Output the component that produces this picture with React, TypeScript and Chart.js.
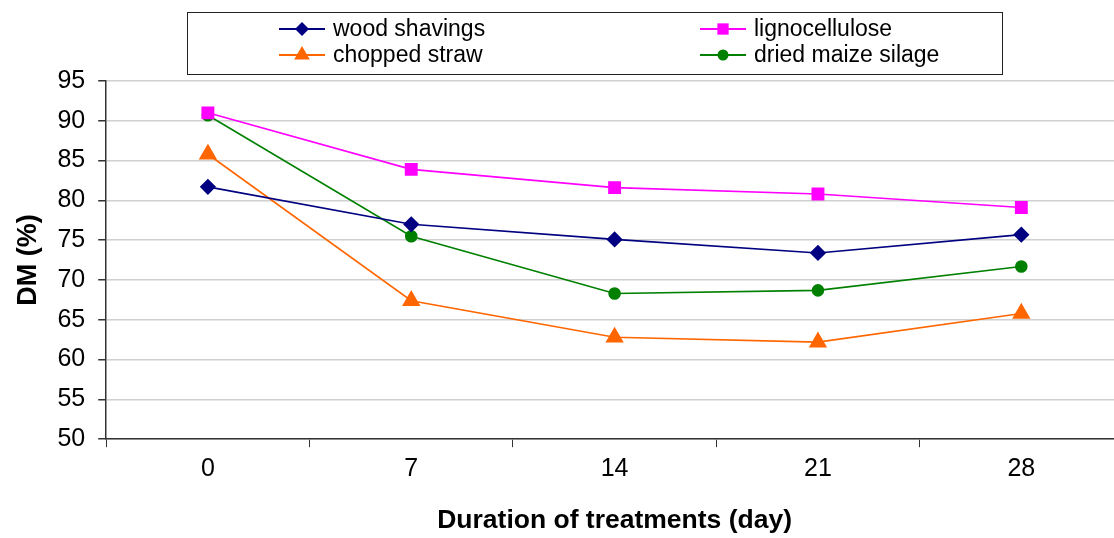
import React, { useEffect, useRef } from "react";
import { Chart, registerables } from "chart.js";

Chart.register(...registerables);

const categories = ["0", "7", "14", "21", "28"];
const woodShavings = [81.7, 77.0, 75.1, 73.4, 75.7];
const lignocellulose = [91.0, 83.9, 81.6, 80.8, 79.1];
const choppedStraw = [85.8, 67.4, 62.8, 62.2, 65.8];
const driedMaizeSilage = [90.7, 75.5, 68.3, 68.7, 71.7];
const yTicks = [50, 55, 60, 65, 70, 75, 80, 85, 90, 95];

const FONT = "'Liberation Sans', Arial, sans-serif";

function drawMarker(ctx: CanvasRenderingContext2D, style: string, r: number, x: number, y: number) {
  ctx.beginPath();
  if (style === "rectRot") {
    ctx.moveTo(x, y - r);
    ctx.lineTo(x + r, y);
    ctx.lineTo(x, y + r);
    ctx.lineTo(x - r, y);
    ctx.closePath();
  } else if (style === "rect") {
    const s = r * Math.SQRT1_2;
    ctx.rect(x - s, y - s, 2 * s, 2 * s);
  } else if (style === "triangle") {
    ctx.moveTo(x, y - r);
    ctx.lineTo(x + r * 0.87, y + r * 0.5);
    ctx.lineTo(x - r * 0.87, y + r * 0.5);
    ctx.closePath();
  } else {
    ctx.arc(x, y, r, 0, Math.PI * 2);
  }
  ctx.fill();
}

const legendPlugin = {
  id: "gridLegend",
  afterDraw(chart: any) {
    const ctx = chart.ctx;
    const boxL = 187, boxT = 12, boxR = 1002, boxB = 74;
    ctx.save();
    ctx.fillStyle = "#ffffff";
    ctx.fillRect(boxL, boxT, boxR - boxL, boxB - boxT);
    ctx.strokeStyle = "#222222";
    ctx.lineWidth = 1;
    ctx.strokeRect(boxL + 0.5, boxT + 0.5, boxR - boxL, boxB - boxT);
    const cols = [279, 700];
    const rows = [29, 55];
    chart.data.datasets.forEach((ds: any, i: number) => {
      const x = cols[i % 2];
      const y = rows[Math.floor(i / 2)];
      ctx.strokeStyle = ds.borderColor;
      ctx.lineWidth = 2;
      ctx.beginPath();
      ctx.moveTo(x, y);
      ctx.lineTo(x + 46, y);
      ctx.stroke();
      ctx.fillStyle = ds.backgroundColor;
      drawMarker(ctx, ds.pointStyle, ds.pointRadius, x + 23, y);
      ctx.fillStyle = "#000000";
      ctx.font = `23px ${FONT}`;
      ctx.textBaseline = "middle";
      ctx.textAlign = "left";
      ctx.fillText(ds.label, x + 54, y + 1);
    });
    ctx.restore();
  },
};

export default function App() {
  const ref = useRef<HTMLCanvasElement | null>(null);
  useEffect(() => {
    if (!ref.current) return;
    const chart = new Chart(ref.current, {
      type: "line",
      data: {
        labels: categories,
        datasets: [
          {
            label: "wood shavings",
            data: woodShavings,
            borderColor: "#000080",
            backgroundColor: "#000080",
            pointStyle: "rectRot",
            pointRadius: 7,
            borderWidth: 1.6,
          },
          {
            label: "lignocellulose",
            data: lignocellulose,
            borderColor: "#FF00FF",
            backgroundColor: "#FF00FF",
            pointStyle: "rect",
            pointRadius: 8,
            borderWidth: 1.6,
          },
          {
            label: "chopped straw",
            data: choppedStraw,
            borderColor: "#FF6600",
            backgroundColor: "#FF6600",
            pointStyle: "triangle",
            pointRadius: 9,
            borderWidth: 1.6,
          },
          {
            label: "dried maize silage",
            data: driedMaizeSilage,
            borderColor: "#008000",
            backgroundColor: "#008000",
            pointStyle: "circle",
            pointRadius: 5.5,
            borderWidth: 1.6,
          },
        ] as any,
      },
      options: {
        animation: false,
        responsive: false,
        devicePixelRatio: 1,
        layout: { padding: { left: 0, right: 17, top: 81, bottom: 1 } },
        plugins: {
          legend: { display: false },
          tooltip: { enabled: false },
        },
        scales: {
          x: {
            type: "category",
            offset: true,
            grid: {
              offset: true,
              drawOnChartArea: false,
              tickLength: 8,
              color: "#333333",
            },
            border: { color: "#333333", width: 1.5 },
            ticks: {
              color: "#000000",
              font: { family: FONT, size: 25 },
              padding: 7,
            },
            title: {
              display: true,
              text: "Duration of treatments (day)",
              color: "#000000",
              font: { family: FONT, size: 26.5, weight: "bold" },
              padding: { top: 14, bottom: 0 },
            },
          },
          y: {
            min: 50,
            max: 95,
            afterBuildTicks: (scale: any) => {
              scale.ticks = yTicks.map((v) => ({ value: v }));
            },
            grid: {
              color: "#d0d0d0",
              lineWidth: 1.5,
              tickLength: 8,
              tickColor: "#333333",
            },
            border: { color: "#333333", width: 1.5 },
            ticks: {
              color: "#000000",
              font: { family: FONT, size: 25 },
              padding: 13,
            },
            title: {
              display: true,
              text: "DM (%)",
              color: "#000000",
              font: { family: FONT, size: 27, weight: "bold" },
              padding: { top: 12, bottom: 0 },
            },
          },
        },
      },
      plugins: [legendPlugin],
    } as any);
    return () => chart.destroy();
  }, []);
  return (
    <div style={{ position: "fixed", left: 0, top: 0, width: 1140, height: 538, background: "#fff" }}>
      <canvas ref={ref} width={1140} height={538} />
    </div>
  );
}
